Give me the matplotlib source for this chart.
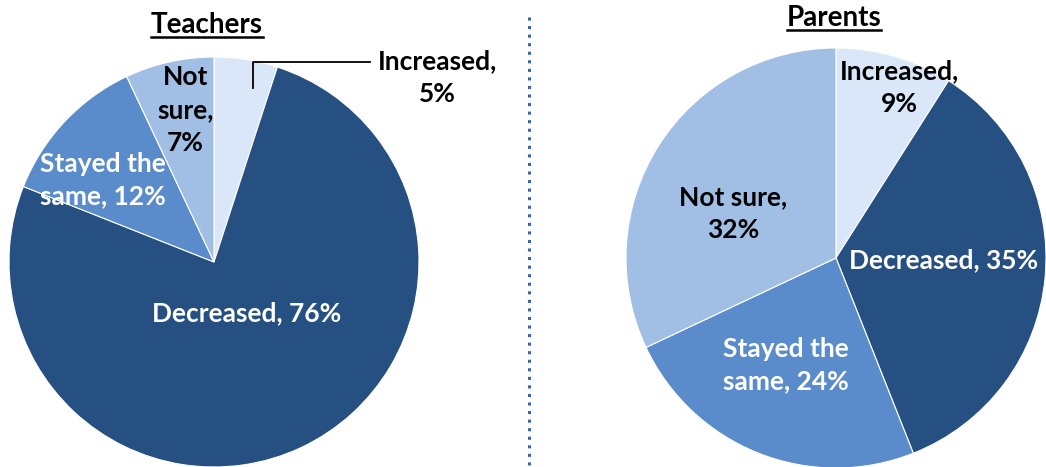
import matplotlib.pyplot as plt
from matplotlib.lines import Line2D

plt.rcParams['font.family'] = ['Lato', 'DejaVu Sans']

categories = ['Increased', 'Decreased', 'Stayed the same', 'Not sure']
teachers = [5, 76, 12, 7]
parents = [9, 35, 24, 32]
colors = ['#d9e7f8', '#264f82', '#5a8bcb', '#a1bfe4']

teacher_labels = ['Increased,\n5%', 'Decreased, 76%', 'Stayed the\nsame, 12%', 'Not\nsure,\n7%']
parent_labels = ['Increased,\n9%', 'Decreased, 35%', 'Stayed the\nsame, 24%', 'Not sure,\n32%']
label_colors = ['black', 'white', 'white', 'black']

W, H = 1046, 467
fig = plt.figure(figsize=(W / 100, H / 100), dpi=100)


def pie_axes(cx, cy, r):
    return fig.add_axes([(cx - r) / W, 1 - (cy + r) / H, 2 * r / W, 2 * r / H])


def draw_pie(ax, values, labels, positions):
    ax.pie(values, colors=colors, startangle=90, counterclock=False, radius=1,
           wedgeprops=dict(linewidth=0.8, edgecolor='white'))
    ax.set_xlim(-1, 1)
    ax.set_ylim(-1, 1)
    ax.set_aspect('equal')
    ax.axis('off')
    for lab, (x, y), c in zip(labels, positions, label_colors):
        ax.text(x, y, lab, ha='center', va='center', color=c, fontsize=19,
                fontweight='bold', linespacing=1.45, clip_on=False)


def title(x, y, s):
    t = fig.text(x / W, 1 - y / H, s, ha='center', va='center', fontsize=20,
                 fontweight='bold')
    fig.canvas.draw()
    bb = t.get_window_extent()
    fig.add_artist(Line2D([bb.x0 / W, bb.x1 / W], [(bb.y0 + 1) / H] * 2,
                          color='black', lw=1.8))


# teachers
ax1 = pie_axes(214, 262, 205)
draw_pie(ax1, teachers, teacher_labels,
         [(1.09, 0.90), (0.16, -0.25), (-0.54, 0.40), (-0.14, 0.74)])
ax1.plot([0.19, 0.19, 0.76], [0.85, 0.976, 0.976], color='black', lw=1.3, clip_on=False)

# parents
ax2 = pie_axes(836, 258, 210)
draw_pie(ax2, parents, parent_labels,
         [(0.30, 0.81), (0.51, -0.01), (-0.24, -0.51), (-0.49, 0.21)])

title(207, 25, 'Teachers')
title(834, 18, 'Parents')

# dotted divider
fig.add_artist(Line2D([529 / W, 529 / W], [1 - 17 / H, 0], color='#3a65a0',
                      lw=2.2, linestyle=(0, (1, 1.8)), dash_capstyle='butt'))

fig.savefig('out.png', dpi=100)
